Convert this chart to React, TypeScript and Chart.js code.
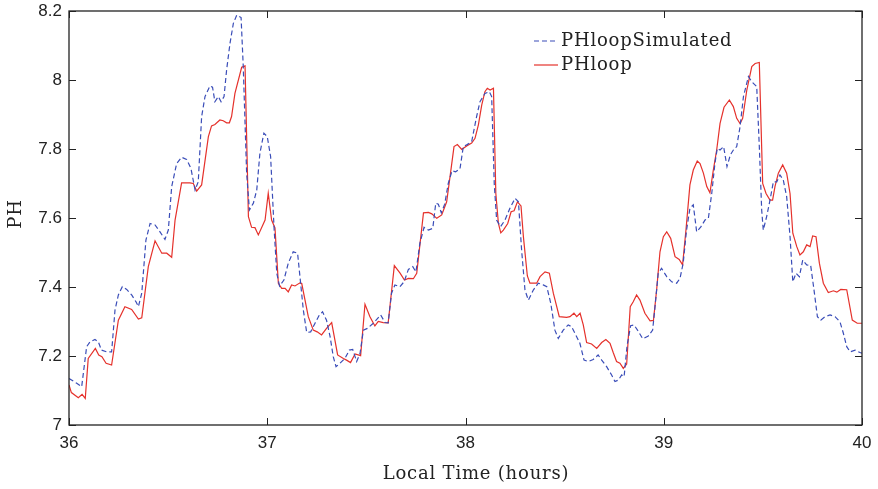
import React, { useEffect, useRef } from "react";
import { Chart, registerables } from "chart.js";

Chart.register(...registerables);

const simLabel = "PHloopSimulated";
const loopLabel = "PHloop";
const xTitle = "Local Time (hours)";
const yTitle = "PH";

const xTicks = [36, 37, 38, 39, 40];
const yTicks = [7, 7.2, 7.4, 7.6, 7.8, 8, 8.2];

const loopTime = [
  36.0, 36.012, 36.047, 36.066, 36.082, 36.097, 36.133, 36.15, 36.166, 36.187, 36.215, 36.249, 36.282, 36.316, 36.35, 36.367,
  36.4, 36.434, 36.468, 36.493, 36.518, 36.535, 36.568, 36.61, 36.627, 36.644, 36.669, 36.703, 36.719, 36.736, 36.761, 36.778,
  36.795, 36.809, 36.82, 36.837, 36.871, 36.888, 36.905, 36.921, 36.938, 36.955, 36.989, 37.005, 37.022, 37.039, 37.056, 37.073,
  37.09, 37.106, 37.123, 37.14, 37.165, 37.174, 37.207, 37.232, 37.252, 37.274, 37.299, 37.325, 37.355, 37.384, 37.4, 37.42,
  37.443, 37.471, 37.493, 37.518, 37.543, 37.56, 37.585, 37.61, 37.641, 37.67, 37.692, 37.712, 37.737, 37.754, 37.788, 37.813,
  37.83, 37.855, 37.88, 37.905, 37.922, 37.942, 37.959, 37.981, 38.006, 38.031, 38.048, 38.065, 38.082, 38.098, 38.11, 38.124,
  38.141, 38.153, 38.166, 38.178, 38.191, 38.213, 38.23, 38.245, 38.262, 38.28, 38.292, 38.312, 38.325, 38.359, 38.376, 38.401,
  38.423, 38.443, 38.473, 38.51, 38.527, 38.547, 38.561, 38.578, 38.594, 38.611, 38.636, 38.662, 38.687, 38.708, 38.729, 38.745,
  38.762, 38.779, 38.796, 38.813, 38.831, 38.846, 38.863, 38.88, 38.905, 38.931, 38.948, 38.964, 38.981, 38.998, 39.015, 39.035,
  39.057, 39.078, 39.095, 39.112, 39.132, 39.149, 39.169, 39.183, 39.2, 39.217, 39.233, 39.25, 39.267, 39.284, 39.304, 39.331,
  39.351, 39.368, 39.385, 39.398, 39.419, 39.444, 39.461, 39.482, 39.499, 39.516, 39.536, 39.549, 39.561, 39.578, 39.6, 39.62,
  39.637, 39.651, 39.671, 39.687, 39.704, 39.721, 39.738, 39.751, 39.768, 39.785, 39.805, 39.83, 39.856, 39.873, 39.893, 39.923,
  39.951, 39.976, 40.0,
];
const loopPH = [
  7.116, 7.094, 7.079, 7.089, 7.077, 7.193, 7.222, 7.203, 7.198, 7.179, 7.174, 7.304, 7.343, 7.335, 7.307, 7.311,
  7.459, 7.534, 7.498, 7.498, 7.486, 7.594, 7.702, 7.702, 7.7, 7.678, 7.696, 7.836, 7.867, 7.871, 7.884, 7.882,
  7.876, 7.876, 7.894, 7.961, 8.037, 8.041, 7.604, 7.573, 7.572, 7.551, 7.594, 7.672, 7.594, 7.571, 7.411, 7.396,
  7.396, 7.386, 7.406, 7.403, 7.412, 7.41, 7.314, 7.275, 7.27, 7.261, 7.28, 7.297, 7.203, 7.193, 7.188, 7.181,
  7.206, 7.201, 7.35, 7.314, 7.287, 7.3, 7.297, 7.296, 7.462, 7.44, 7.42, 7.425, 7.424, 7.44, 7.615, 7.616,
  7.612, 7.599, 7.609, 7.647, 7.72, 7.807, 7.813, 7.799, 7.809, 7.817, 7.831, 7.87, 7.928, 7.966, 7.976, 7.971,
  7.976, 7.671, 7.584, 7.557, 7.565, 7.584, 7.618, 7.621, 7.647, 7.635, 7.546, 7.432, 7.411, 7.411, 7.43, 7.444,
  7.44, 7.382, 7.314, 7.312, 7.314, 7.324, 7.314, 7.324, 7.29, 7.239, 7.235, 7.222, 7.239, 7.248, 7.237, 7.21,
  7.184, 7.179, 7.164, 7.177, 7.343, 7.357, 7.377, 7.362, 7.324, 7.302, 7.303, 7.391, 7.502, 7.546, 7.56, 7.541,
  7.488, 7.48, 7.464, 7.565, 7.696, 7.739, 7.765, 7.758, 7.73, 7.691, 7.673, 7.739, 7.797, 7.874, 7.921, 7.942,
  7.923, 7.889, 7.874, 7.889, 7.971, 8.039, 8.048, 8.051, 7.7, 7.671, 7.652, 7.652, 7.691, 7.73, 7.754, 7.73,
  7.671, 7.556, 7.517, 7.493, 7.502, 7.522, 7.517, 7.548, 7.546, 7.469, 7.411, 7.384, 7.389, 7.385, 7.393, 7.392,
  7.304, 7.295, 7.295,
];

const simTime = [
  36.0, 36.039, 36.064, 36.089, 36.106, 36.131, 36.148, 36.164, 36.19, 36.215, 36.232, 36.249, 36.269, 36.291, 36.316, 36.338,
  36.35, 36.367, 36.388, 36.409, 36.434, 36.459, 36.484, 36.501, 36.518, 36.543, 36.568, 36.593, 36.615, 36.636, 36.652, 36.669,
  36.686, 36.711, 36.724, 36.736, 36.753, 36.767, 36.782, 36.795, 36.812, 36.829, 36.846, 36.868, 36.879, 36.896, 36.91, 36.93,
  36.947, 36.963, 36.983, 37.0, 37.017, 37.034, 37.048, 37.062, 37.084, 37.106, 37.131, 37.153, 37.165, 37.182, 37.199, 37.219,
  37.241, 37.263, 37.279, 37.299, 37.317, 37.333, 37.347, 37.367, 37.392, 37.414, 37.431, 37.451, 37.468, 37.485, 37.505, 37.535,
  37.572, 37.594, 37.61, 37.627, 37.644, 37.669, 37.69, 37.712, 37.734, 37.75, 37.77, 37.791, 37.813, 37.835, 37.85, 37.863,
  37.878, 37.895, 37.913, 37.932, 37.95, 37.972, 37.989, 38.006, 38.031, 38.056, 38.073, 38.098, 38.12, 38.132, 38.145, 38.157,
  38.177, 38.199, 38.224, 38.25, 38.267, 38.283, 38.3, 38.317, 38.342, 38.367, 38.392, 38.41, 38.43, 38.451, 38.468, 38.493,
  38.518, 38.535, 38.552, 38.577, 38.598, 38.619, 38.644, 38.669, 38.687, 38.712, 38.737, 38.754, 38.771, 38.788, 38.8, 38.815,
  38.833, 38.85, 38.871, 38.894, 38.922, 38.944, 38.956, 38.972, 38.989, 39.015, 39.04, 39.065, 39.082, 39.098, 39.115, 39.132,
  39.149, 39.166, 39.188, 39.208, 39.225, 39.242, 39.258, 39.27, 39.284, 39.302, 39.319, 39.336, 39.351, 39.368, 39.385, 39.402,
  39.427, 39.444, 39.469, 39.482, 39.494, 39.502, 39.519, 39.536, 39.553, 39.57, 39.586, 39.603, 39.62, 39.637, 39.651, 39.667,
  39.684, 39.701, 39.721, 39.741, 39.758, 39.775, 39.792, 39.813, 39.839, 39.864, 39.889, 39.906, 39.923, 39.94, 39.965, 39.99,
  40.0,
];
const simPH = [
  7.135, 7.121, 7.111, 7.227, 7.241, 7.248, 7.241, 7.217, 7.212, 7.212, 7.333, 7.377, 7.401, 7.393, 7.377, 7.357,
  7.343, 7.382, 7.536, 7.584, 7.58, 7.56, 7.538, 7.565, 7.691, 7.758, 7.776, 7.77, 7.744, 7.681, 7.705, 7.894,
  7.952, 7.983, 7.979, 7.937, 7.952, 7.937, 7.952, 8.029, 8.106, 8.164, 8.188, 8.181, 8.039, 7.73, 7.623, 7.643,
  7.681, 7.788, 7.846, 7.836, 7.778, 7.575, 7.44, 7.403, 7.42, 7.469, 7.502, 7.498, 7.43, 7.333, 7.268, 7.27,
  7.295, 7.319, 7.328, 7.304, 7.256, 7.198, 7.169, 7.179, 7.193, 7.217, 7.219, 7.184, 7.208, 7.275, 7.28, 7.295,
  7.319, 7.297, 7.296, 7.382, 7.406, 7.401, 7.415, 7.451, 7.459, 7.444, 7.527, 7.573, 7.565, 7.57, 7.643, 7.64,
  7.615, 7.64, 7.7, 7.737, 7.734, 7.742, 7.807, 7.812, 7.821, 7.894, 7.937, 7.961, 7.966, 7.952, 7.7, 7.594,
  7.575, 7.594, 7.628, 7.657, 7.647, 7.507, 7.391, 7.362, 7.391, 7.411, 7.406, 7.401, 7.353, 7.275, 7.251, 7.275,
  7.29, 7.285, 7.266, 7.237, 7.188, 7.184, 7.19, 7.203, 7.188, 7.169, 7.145, 7.126, 7.13, 7.145, 7.14, 7.23,
  7.288, 7.29, 7.272, 7.25, 7.258, 7.275, 7.343, 7.44, 7.454, 7.43, 7.415, 7.411, 7.425, 7.469, 7.565, 7.628,
  7.638, 7.56, 7.575, 7.594, 7.599, 7.671, 7.758, 7.802, 7.797, 7.807, 7.749, 7.783, 7.797, 7.807, 7.865, 7.952,
  8.01, 7.995, 7.981, 7.807, 7.623, 7.565, 7.604, 7.652, 7.705, 7.705, 7.725, 7.71, 7.662, 7.546, 7.415, 7.44,
  7.43, 7.478, 7.464, 7.463, 7.391, 7.314, 7.304, 7.314, 7.319, 7.314, 7.299, 7.266, 7.227, 7.212, 7.217, 7.21,
  7.208,
];

const BLUE = "#3a4db8";
const RED = "#e5312b";
const INK = "#222222";
const SERIF = '18px "DejaVu Serif", serif';

const toXY = (t: number[], v: number[]) => t.map((x, i) => ({ x, y: v[i] }));

const framePlugin = {
  id: "frame",
  afterDraw(chart: any) {
    const { ctx, chartArea, scales } = chart;
    const { left, right, top, bottom } = chartArea;
    const tl = 7;
    ctx.save();
    ctx.strokeStyle = INK;
    ctx.lineWidth = 1.3;
    ctx.strokeRect(left, top, right - left, bottom - top);
    ctx.lineWidth = 1;
    ctx.beginPath();
    xTicks.forEach((v) => {
      const px = Math.round(scales.x.getPixelForValue(v)) + 0.5;
      ctx.moveTo(px, bottom);
      ctx.lineTo(px, bottom - tl);
      ctx.moveTo(px, top);
      ctx.lineTo(px, top + tl);
    });
    yTicks.forEach((v) => {
      const py = Math.round(scales.y.getPixelForValue(v)) + 0.5;
      ctx.moveTo(left, py);
      ctx.lineTo(left + tl, py);
      ctx.moveTo(right, py);
      ctx.lineTo(right - tl, py);
    });
    ctx.stroke();

    // legend
    const lx = right - 328;
    const rows = [
      { ds: chart.data.datasets[0], y: top + 30 },
      { ds: chart.data.datasets[1], y: top + 54 },
    ];
    ctx.font = SERIF;
    try { (ctx as any).letterSpacing = "0.8px"; } catch (e) {}
    ctx.textBaseline = "middle";
    ctx.textAlign = "left";
    rows.forEach(({ ds, y }) => {
      ctx.strokeStyle = ds.borderColor;
      ctx.lineWidth = ds.borderWidth;
      ctx.setLineDash(ds.borderDash || []);
      ctx.beginPath();
      ctx.moveTo(lx, y);
      ctx.lineTo(lx + 24, y);
      ctx.stroke();
      ctx.setLineDash([]);
      ctx.fillStyle = INK;
      ctx.fillText(ds.label, lx + 27, y);
    });

    // axis titles
    ctx.textAlign = "center";
    ctx.fillText(xTitle, left + 407, 474);
    ctx.save();
    ctx.translate(16, top + 203);
    ctx.rotate(-Math.PI / 2);
    ctx.fillText(yTitle, 0, 0);
    ctx.restore();
    try { (ctx as any).letterSpacing = "0px"; } catch (e) {}
    ctx.restore();
  },
};

export default function App() {
  const ref = useRef<HTMLCanvasElement | null>(null);
  useEffect(() => {
    if (!ref.current) return;
    const chart = new Chart(ref.current, {
      type: "line",
      data: {
        datasets: [
          {
            label: simLabel,
            data: toXY(simTime, simPH),
            borderColor: BLUE,
            borderWidth: 1.2,
            borderDash: [5, 3],
            pointRadius: 0,
            fill: false,
            tension: 0,
          },
          {
            label: loopLabel,
            data: toXY(loopTime, loopPH),
            borderColor: RED,
            borderWidth: 1.2,
            pointRadius: 0,
            fill: false,
            tension: 0,
          },
        ],
      },
      options: {
        animation: false,
        responsive: false,
        devicePixelRatio: 1,
        parsing: false,
        layout: { padding: { top: 11, right: 16, left: 0, bottom: 0 } },
        plugins: { legend: { display: false }, tooltip: { enabled: false } },
        scales: {
          x: {
            type: "linear",
            min: 36,
            max: 40,
            afterBuildTicks: (s: any) => {
              s.ticks = xTicks.map((value) => ({ value }));
            },
            afterFit: (s: any) => {
              s.height = 64;
              s.paddingLeft = 0;
              s.paddingRight = 0;
            },
            grid: { display: false, drawTicks: false },
            border: { display: false },
            ticks: {
              padding: 8,
              color: INK,
              font: { family: '"Liberation Sans", Arial, sans-serif', size: 17 },
              maxRotation: 0,
              callback: (v: any) => String(v),
            },
          },
          y: {
            type: "linear",
            min: 7,
            max: 8.2,
            afterBuildTicks: (s: any) => {
              s.ticks = yTicks.map((value) => ({ value }));
            },
            afterFit: (s: any) => {
              s.width = 69;
              s.paddingTop = 0;
              s.paddingBottom = 0;
            },
            grid: { display: false, drawTicks: false },
            border: { display: false },
            ticks: {
              padding: 7,
              color: INK,
              font: { family: '"Liberation Sans", Arial, sans-serif', size: 17 },
              callback: (v: any) => String(Number(Number(v).toFixed(1))),
            },
          },
        },
      },
      plugins: [framePlugin],
    });
    return () => chart.destroy();
  }, []);
  return (
    <div style={{ position: "absolute", left: 0, top: 0, width: 878, height: 489, background: "#fff" }}>
      <canvas ref={ref} width={878} height={489} />
    </div>
  );
}
